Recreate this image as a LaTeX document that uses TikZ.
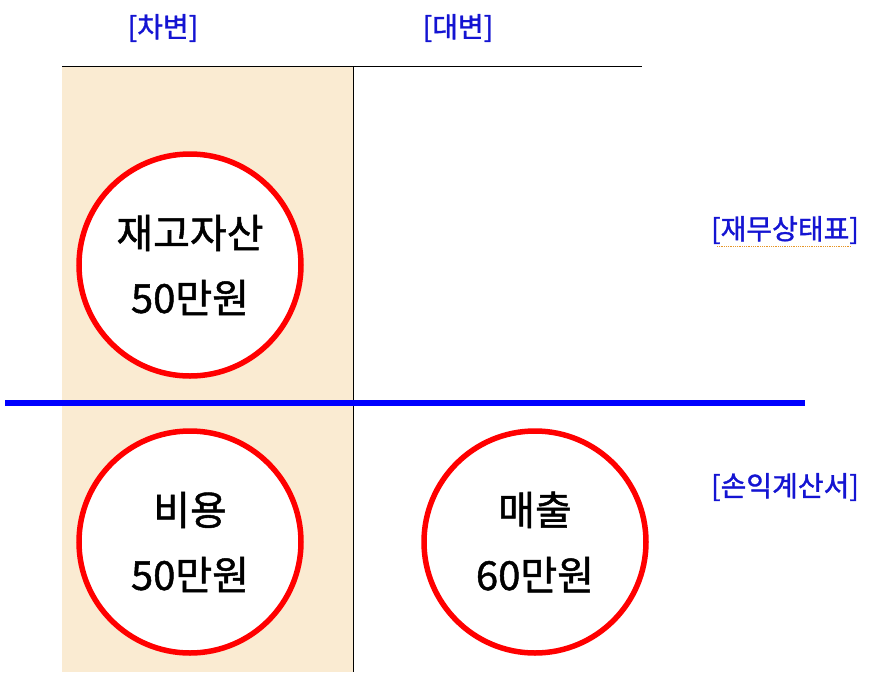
\documentclass[tikz,border=0pt]{standalone}
\usepackage{fontspec}
\setmainfont{Noto Sans CJK KR}
\newfontfamily\krbold{Noto Sans CJK KR}[FakeBold=1.2]
\definecolor{debitfill}{RGB}{250,235,210}
\definecolor{labelblue}{RGB}{20,20,210}
\definecolor{ringred}{RGB}{255,0,0}
\definecolor{squiggle}{RGB}{230,150,40}

\tikzset{
  every picture/.append style={x=1pt, y=-1pt},
  heading/.style={text=labelblue, font=\krbold\fontsize{28}{30}\selectfont, inner sep=0pt},
  account/.style={circle, draw=ringred, line width=5.5pt, fill=white,
    minimum size=222pt, align=center, inner sep=0pt,
    font=\krbold\fontsize{40}{65}\selectfont},
}

\begin{document}
\begin{tikzpicture}
  \useasboundingbox (0,0) rectangle (884,689);
  \fill[debitfill] (62,66) rectangle (353,672);
  \draw[line width=1pt] (62,66) -- (642,66);
  \draw[line width=1pt] (353,66) -- (353,672);
  \node[heading] (debit) at (163,28) {[차변]};
  \node[heading] (credit) at (458,28) {[대변]};
  \node[heading] (bs) at (785,230) {[재무상태표]};
  \node[heading] (is) at (785,487) {[손익계산서]};
  \draw[squiggle, densely dotted, line width=0.8pt] (bs.south west) ++(6,2) -- ([xshift=-8pt, yshift=-2pt]bs.south east);
  \node[account] (stock) at (190,265) {재고자산\\50만원};
  \node[account] (cost) at (190,542) {비용\\50만원};
  \node[account] (sales) at (535,542) {매출\\60만원};
  \draw[blue, line width=6pt] (5,403) -- (805,403);
\end{tikzpicture}
\end{document}
